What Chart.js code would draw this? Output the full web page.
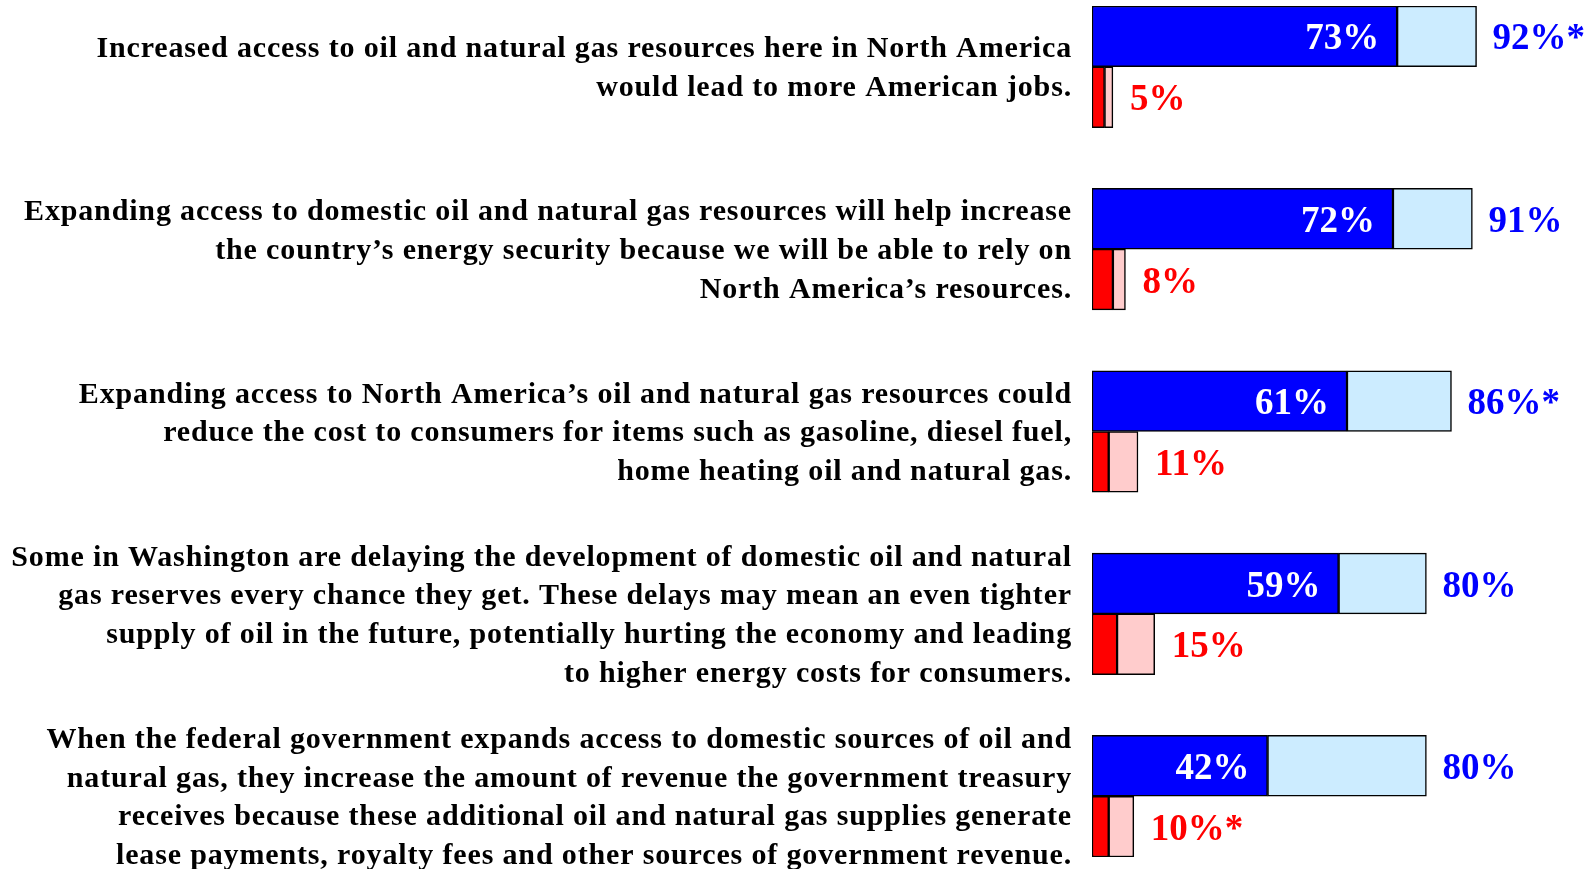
<!DOCTYPE html>
<html>
<head>
<meta charset="utf-8">
<script src="https://cdn.jsdelivr.net/npm/chart.js@4/dist/chart.umd.min.js"></script>
<style>
  html, body { margin: 0; padding: 0; background: #fff; }
  #wrap { width: 1589px; height: 869px; position: relative; }
</style>
</head>
<body>
<div id="wrap"><canvas id="c"></canvas></div>
<script>
const statements = [
  ["Increased access to oil and natural gas resources here in North America", "would lead to more American jobs."],
  ["Expanding access to domestic oil and natural gas resources will help increase", "the country\u2019s energy security because we will be able to rely on", "North America\u2019s resources."],
  ["Expanding access to North America\u2019s oil and natural gas resources could", "reduce the cost to consumers for items such as gasoline, diesel fuel,", "home heating oil and natural gas."],
  ["Some in Washington are delaying the development of domestic oil and natural", "gas reserves every chance they get. These delays may mean an even tighter", "supply of oil in the future, potentially hurting the economy and leading", "to higher energy costs for consumers."],
  ["When the federal government expands access to domestic sources of oil and", "natural gas, they increase the amount of revenue the government treasury", "receives because these additional oil and natural gas supplies generate", "lease payments, royalty fees and other sources of government revenue."]
];
const strongAgree = [73, 72, 61, 59, 42];
const totalAgree = [92, 91, 86, 80, 80];
const strongDisagree = [3, 5, 4, 6, 4];
const totalDisagree = [5, 8, 11, 15, 10];
const totalAgreeLabels = ["92%*", "91%", "86%*", "80%", "80%"];
const totalDisagreeLabels = ["5%", "8%", "11%", "15%", "10%*"];

// Build rows: agree row, disagree row, spacer row
const rowLabels = [], strongData = [], restData = [], strongColors = [], restColors = [];
const rowKind = [], rowQ = [];
statements.forEach((s, i) => {
  rowLabels.push(s); strongData.push(strongAgree[i]); restData.push(totalAgree[i] - strongAgree[i]);
  strongColors.push('#0000FF'); restColors.push('#CCECFF'); rowKind.push('agree'); rowQ.push(i);
  rowLabels.push(''); strongData.push(strongDisagree[i]); restData.push(totalDisagree[i] - strongDisagree[i]);
  strongColors.push('#FF0000'); restColors.push('#FFCCCC'); rowKind.push('disagree'); rowQ.push(i);
  if (i < statements.length - 1) {
    rowLabels.push(''); strongData.push(null); restData.push(null);
    strongColors.push('#fff'); restColors.push('#fff'); rowKind.push('gap'); rowQ.push(i);
  }
});

const labelFont = "bold 37px 'Liberation Serif', 'Times New Roman', serif";

const spacing = {
  id: 'spacing',
  beforeDraw(chart) { chart.ctx.letterSpacing = '0.85px'; }
};

const valueLabels = {
  id: 'valueLabels',
  afterDatasetsDraw(chart) {
    const ctx = chart.ctx;
    const m0 = chart.getDatasetMeta(0), m1 = chart.getDatasetMeta(1);
    ctx.save();
    ctx.letterSpacing = '0px';
    ctx.font = labelFont;
    ctx.textBaseline = 'middle';
    rowKind.forEach((k, r) => {
      if (k === 'gap') return;
      const q = rowQ[r];
      const e0 = m0.data[r], e1 = m1.data[r];
      if (k === 'agree') {
        ctx.fillStyle = '#FFFFFF';
        ctx.textAlign = 'right';
        ctx.fillText(strongAgree[q] + '%', e0.x - 18, e0.y + 3.5);
        ctx.fillStyle = '#0000FF';
        ctx.textAlign = 'left';
        ctx.fillText(totalAgreeLabels[q], e1.x + 16, e1.y + 3.5);
      } else {
        ctx.fillStyle = '#FF0000';
        ctx.textAlign = 'left';
        ctx.fillText(totalDisagreeLabels[q], e1.x + 17, e1.y + 3.5);
      }
    });
    ctx.restore();
  }
};

new Chart(document.getElementById('c'), {
  type: 'bar',
  data: {
    labels: rowLabels,
    datasets: [
      { data: strongData, backgroundColor: strongColors, borderColor: '#000', borderWidth: 1.5, borderSkipped: false },
      { data: restData, backgroundColor: restColors, borderColor: '#000', borderWidth: 1.5, borderSkipped: false }
    ]
  },
  options: {
    indexAxis: 'y',
    responsive: true,
    maintainAspectRatio: false,
    animation: false,
    layout: { padding: { top: 6, bottom: 12, left: 0, right: 79 } },
    plugins: { legend: { display: false }, tooltip: { enabled: false } },
    datasets: { bar: { barPercentage: 1, categoryPercentage: 1 } },
    scales: {
      x: { stacked: true, min: 0, max: 100, display: false },
      y: {
        stacked: true,
        grid: { display: false, drawTicks: false },
        border: { display: false },
        afterFit(scale) { scale.width = 1092; scale.paddingTop = 0; scale.paddingBottom = 0; },
        ticks: {
          autoSkip: false,
          padding: 20,
          labelOffset: 32.5,
          color: '#000',
          font: { family: "'Liberation Serif', 'Times New Roman', serif", size: 30, weight: 'bold', lineHeight: 1.285 }
        }
      }
    }
  },
  plugins: [spacing, valueLabels]
});
</script>
</body>
</html>
